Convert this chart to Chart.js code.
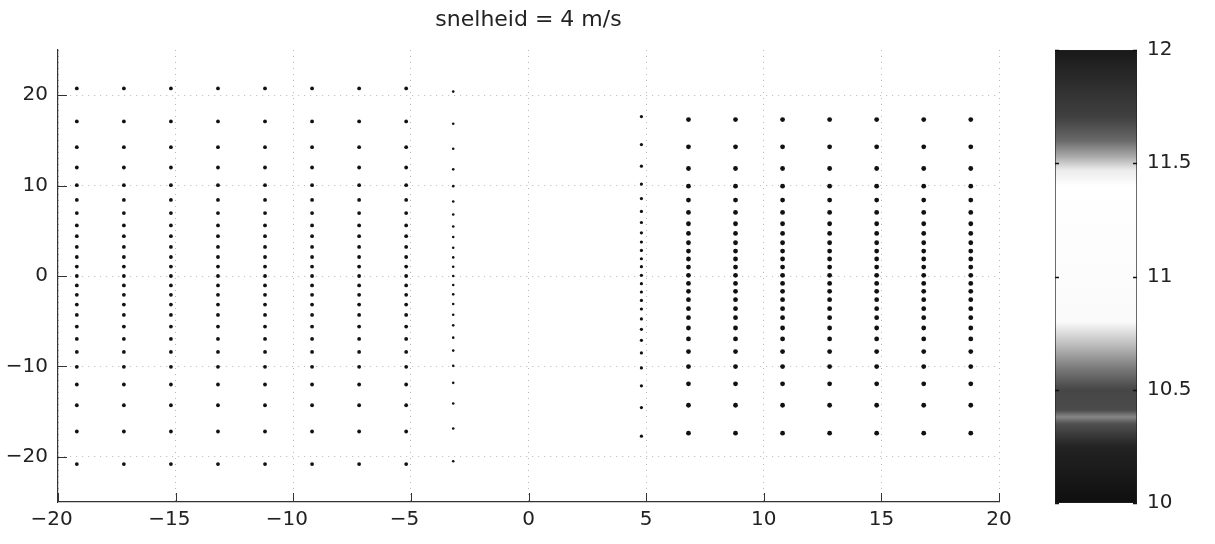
<!DOCTYPE html>
<html lang="nl">
<head>
<meta charset="UTF-8">
<title>snelheid = 4 m/s</title>
<script src="https://cdn.jsdelivr.net/npm/chart.js"></script>
<style>
  html, body { margin: 0; padding: 0; background: #fff; }
  #wrap { position: relative; width: 1215px; height: 544px; }
  #main { position: absolute; left: 0; top: 0; }
  #bar { position: absolute; left: 1040px; top: 0; }
</style>
</head>
<body>
<div id="wrap">
  <canvas id="main" width="1040" height="544"></canvas>
  <canvas id="bar" width="175" height="544"></canvas>
</div>
<script>
const leftCols = [-19.2, -17.2, -15.2, -13.2, -11.2, -9.2, -7.2, -5.2];
const leftRows = [20.75, 17.1, 14.25, 12.0, 10.05, 8.42, 6.96, 5.6, 4.4, 3.22, 2.1, 1.04, 0,
  -1.04, -2.08, -3.16, -4.31, -5.6, -6.96, -8.4, -10.05, -12.0, -14.3, -17.2, -20.8];
const leftEdgeCol = -3.2;
const leftEdgeRows = [20.4, 16.85, 14.07, 11.8, 9.94, 8.24, 6.81, 5.48, 4.31, 3.13, 2.06, 1.03, 0,
  -1.0, -2.03, -3.09, -4.28, -5.46, -6.82, -8.25, -9.94, -11.82, -14.1, -16.87, -20.5];
const rightEdgeCol = 4.8;
const rightEdgeRows = [17.64, 14.54, 12.15, 10.17, 8.57, 7.14, 5.92, 4.78, 3.76, 2.83, 1.91, 1.03, 0.07,
  -0.85, -1.77, -2.7, -3.65, -4.75, -5.9, -7.12, -8.51, -10.17, -12.15, -14.55, -17.72];
const rightCols = [6.8, 8.8, 10.8, 12.8, 14.8, 16.8, 18.8];
const rightRows = [17.3, 14.29, 11.89, 9.94, 8.4, 7.03, 5.78, 4.71, 3.68, 2.76, 1.88, 0.99, 0.08,
  -0.82, -1.7, -2.62, -3.61, -4.61, -5.75, -6.96, -8.36, -10.02, -11.93, -14.3, -17.39];

const xTicks = [-20, -15, -10, -5, 0, 5, 10, 15, 20];
const yTicks = [-20, -10, 0, 10, 20];

// colorbar
const cbTicks = [10, 10.5, 11, 11.5, 12];
const cbLevels = [10.0, 10.25, 10.35, 10.38, 10.41, 10.5, 10.6, 10.7, 10.8, 11.4, 11.47, 11.53, 11.6, 11.7, 11.85, 12.0];
const cbGray   = [15, 35, 80, 135, 75, 70, 125, 190, 250, 255, 235, 170, 105, 65, 45, 25];

const FONT = 'DejaVu Sans';
const TXT = '#222';

function grid(cols, rows) {
  const pts = [];
  cols.forEach(x => rows.forEach(y => pts.push({ x: x, y: y })));
  return pts;
}

function minusLabel(v) {
  // number centred, minus hangs to the left like in the original
  return v < 0 ? '\u2212' + Math.abs(v) + '\u2007' : String(v);
}

const inwardTicks = {
  id: 'inwardTicks',
  afterDraw(chart) {
    const ctx = chart.ctx, a = chart.chartArea;
    const xs = chart.scales.x, ys = chart.scales.y;
    ctx.save();
    ctx.strokeStyle = '#333';
    ctx.lineWidth = 1;
    ctx.beginPath();
    xTicks.forEach(v => {
      const px = Math.round(xs.getPixelForValue(v)) + 0.5;
      ctx.moveTo(px, a.bottom);
      ctx.lineTo(px, a.bottom - 9);
    });
    yTicks.forEach(v => {
      const py = Math.round(ys.getPixelForValue(v)) + 0.5;
      ctx.moveTo(a.left, py);
      ctx.lineTo(a.left + 9, py);
    });
    ctx.stroke();
    ctx.restore();
  }
};

new Chart(document.getElementById('main'), {
  type: 'scatter',
  data: {
    datasets: [
      { data: grid(leftCols, leftRows), pointRadius: 1.9 },
      { data: grid([leftEdgeCol], leftEdgeRows), pointRadius: 1.3 },
      { data: grid([rightEdgeCol], rightEdgeRows), pointRadius: 1.6 },
      { data: grid(rightCols, rightRows), pointRadius: 2.4 }
    ].map(d => Object.assign(d, {
      backgroundColor: '#111', borderWidth: 0, pointHoverRadius: 0
    }))
  },
  options: {
    responsive: false,
    animation: false,
    events: [],
    layout: { padding: { left: 0, right: 41, top: 0, bottom: 0 } },
    plugins: {
      legend: { display: false },
      tooltip: { enabled: false },
      title: {
        display: true,
        text: 'snelheid = 4 m/s',
        fullSize: false,
        color: TXT,
        font: { family: FONT, size: 22, weight: 'normal', lineHeight: 1.2 },
        padding: { top: 7, bottom: 16.6 }
      }
    },
    scales: {
      x: {
        type: 'linear', min: -20, max: 20,
        afterBuildTicks: s => { s.ticks = xTicks.map(v => ({ value: v })); },
        afterFit: s => { s.height = 42; },
        ticks: {
          color: TXT, padding: 6, maxRotation: 0,
          font: { family: FONT, size: 20 },
          callback: v => minusLabel(v)
        },
        grid: { color: '#b8b8b8', lineWidth: 1, drawTicks: false },
        border: { display: true, color: '#333', width: 1.2, dash: [1, 5] }
      },
      y: {
        type: 'linear', min: -25, max: 25,
        afterBuildTicks: s => { s.ticks = yTicks.map(v => ({ value: v })); },
        afterFit: s => { s.width = 58; },
        ticks: {
          color: TXT, padding: 10,
          font: { family: FONT, size: 20 },
          callback: v => v < 0 ? '\u2212' + Math.abs(v) : String(v)
        },
        grid: { color: '#b8b8b8', lineWidth: 1, drawTicks: false },
        border: { display: true, color: '#333', width: 1.2, dash: [1, 5] }
      }
    }
  },
  plugins: [inwardTicks]
});

// colour bar
const cbTickMarks = {
  id: 'cbTickMarks',
  afterDraw(chart) {
    const ctx = chart.ctx, a = chart.chartArea, ys = chart.scales.y;
    ctx.save();
    ctx.strokeStyle = '#111';
    ctx.lineWidth = 1.5;
    ctx.beginPath();
    cbTicks.forEach(v => {
      const py = Math.round(ys.getPixelForValue(v)) + 0.5;
      ctx.moveTo(a.left, py); ctx.lineTo(a.left + 4, py);
      ctx.moveTo(a.right, py); ctx.lineTo(a.right - 4, py);
    });
    ctx.stroke();
    ctx.restore();
  }
};

new Chart(document.getElementById('bar'), {
  type: 'bar',
  data: {
    labels: [''],
    datasets: [{
      data: [[cbTicks[0], cbTicks[cbTicks.length - 1]]],
      barPercentage: 1,
      categoryPercentage: 1,
      borderWidth: 1,
      borderColor: '#222',
      borderSkipped: false,
      backgroundColor: ctx => {
        const chart = ctx.chart;
        if (!chart.chartArea) return '#888';
        const ys = chart.scales.y;
        const y0 = ys.getPixelForValue(cbTicks[0]);
        const y1 = ys.getPixelForValue(cbTicks[cbTicks.length - 1]);
        const g = chart.ctx.createLinearGradient(0, y0, 0, y1);
        const span = cbTicks[cbTicks.length - 1] - cbTicks[0];
        cbLevels.forEach((v, i) => {
          const c = cbGray[i];
          g.addColorStop((v - cbTicks[0]) / span, 'rgb(' + c + ',' + c + ',' + c + ')');
        });
        return g;
      }
    }]
  },
  options: {
    responsive: false,
    animation: false,
    events: [],
    layout: { padding: { left: 15, right: 0, top: 50, bottom: 41 } },
    plugins: { legend: { display: false }, tooltip: { enabled: false } },
    scales: {
      x: { display: false },
      y: {
        position: 'right',
        min: 10, max: 12,
        afterBuildTicks: s => { s.ticks = cbTicks.map(v => ({ value: v })); },
        afterFit: s => { s.width = 78; },
        ticks: {
          color: TXT, padding: 10,
          font: { family: FONT, size: 20 },
          callback: v => String(v)
        },
        grid: { display: false, drawTicks: false },
        border: { display: false }
      }
    }
  },
  plugins: [cbTickMarks]
});
</script>
</body>
</html>
